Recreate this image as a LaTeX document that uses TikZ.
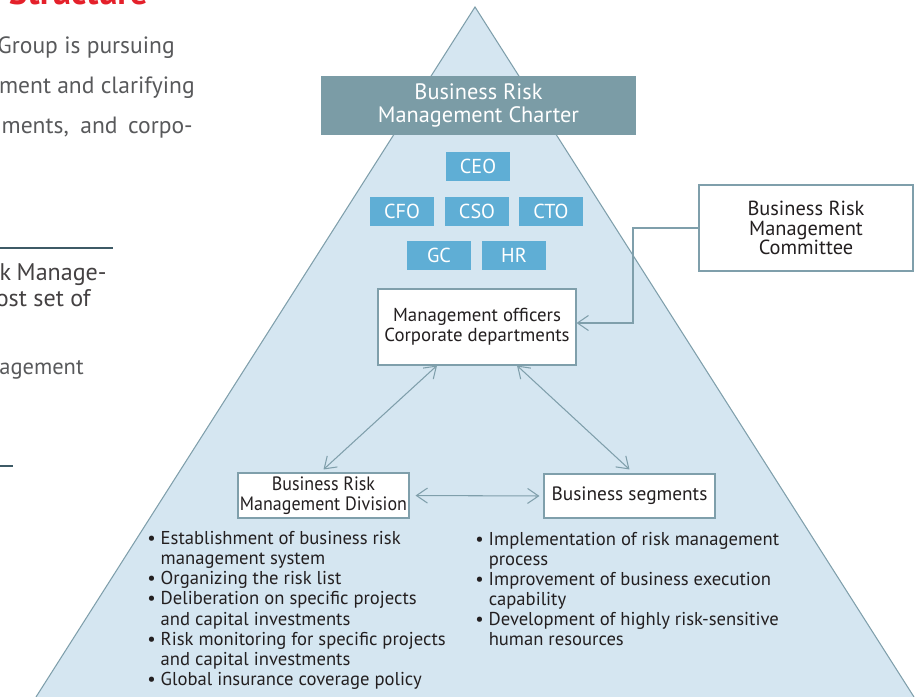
\documentclass[tikz,border=0pt]{standalone}
\usepackage{fontspec}
\setmainfont{PT Sans}
\newfontfamily\narrowfont[FakeStretch=0.93]{PT Sans}
\usepackage{xcolor}
\definecolor{riskpale}{HTML}{D5E6F1}
\definecolor{riskslate}{HTML}{7F9FAB}
\definecolor{riskcharter}{HTML}{7B9CA6}
\definecolor{riskblue}{HTML}{5FAED5}
\definecolor{riskink}{HTML}{231F20}
\definecolor{riskgray}{HTML}{58595B}
\definecolor{riskred}{HTML}{E4202A}
\definecolor{riskrule}{HTML}{3E5A66}
\usetikzlibrary{arrows.meta,positioning}

\begin{document}
\begin{tikzpicture}[
  x=0.2mm, y=-0.2mm,
  font=\fontsize{10}{11.3}\selectfont, text=riskink,
  exec/.style={rectangle, fill=riskblue, text=white, minimum width=12.8mm, minimum height=5.8mm, inner sep=0pt, font=\fontsize{11.5}{12}\selectfont},
  unit/.style={rectangle, draw=riskslate, fill=white, line width=0.6pt, align=center, inner sep=0pt},
  notes/.style={align=left, inner sep=0pt, anchor=north west, font=\fontsize{10.6}{11.45}\selectfont},
  pagetext/.style={anchor=base east, inner sep=0pt, text=riskgray, font=\fontsize{13.4}{13.4}\selectfont},
  a/.style={{Straight Barb[length=2.2mm,width=3mm]}-{Straight Barb[length=2.2mm,width=3mm]}, line width=0.6pt, riskslate},
  ln/.style={riskslate, line width=0.6pt},
  rule/.style={riskrule, line width=1.1pt},
]
\useasboundingbox (0,0) rectangle (921,697);
% ---------------- page text cut off at the left
\node[pagetext, text=riskred, font=\bfseries\fontsize{20}{20}\selectfont] (title) at (148,5) {Structure};
\node[pagetext] (p1) at (175,54) {Group is pursuing};
\node[pagetext] (p2) at (195,94) {ment and clarifying};
\node[pagetext] (p3) at (193,134) {\makebox[38.2mm][s]{ments, and corpo-}};
\draw[rule] (0,248) -- (113,248);
\node[pagetext, text=riskink!85, font=\fontsize{13.7}{13.7}\selectfont] (p4) at (107,280) {\makebox[21.4mm][s]{k Manage-}};
\node[pagetext, text=riskink!85, font=\fontsize{13.7}{13.7}\selectfont] (p5) at (91,306) {ost set of};
\node[pagetext, font=\fontsize{12.8}{12.8}\selectfont] (p6) at (84,374) {agement};
\draw[rule] (0,466) -- (13,466);
% ---------------- the pyramid
\coordinate (apex) at (475,7);
\coordinate (baseL) at (36,697);
\coordinate (baseR) at (914,697);
\fill[riskpale] (apex) -- (baseR) -- (baseL) -- cycle;
\draw[ln] (baseL) -- (apex) -- (baseR);
% ---------------- charter and officers
\node[rectangle, fill=riskcharter, text=white, minimum width=63mm, minimum height=11.8mm, align=center, inner sep=0pt, font=\fontsize{12.7}{13.6}\selectfont] (charter) at (478.5,105.5) {Business Risk\\Management Charter};
\node[exec] (ceo) at (478,166.5) {CEO};
\node[exec] (cfo) at (402,211.5) {CFO};
\node[exec] (cso) at (477,211.5) {CSO};
\node[exec] (cto) at (551,211.5) {CTO};
\node[exec] (gc) at (439,255.5) {GC};
\node[exec] (hr) at (514,255.5) {HR};
% ---------------- management units
\node[unit, minimum width=39.6mm, minimum height=15.2mm, font=\fontsize{10.7}{11.3}\selectfont] (mgmt) at (477,327) {Management officers\\Corporate departments};
\node[unit, minimum width=42.8mm, minimum height=17.2mm, font=\fontsize{11.6}{11.3}\selectfont] (comm) at (806,228) {Business Risk\\Management\\Committee};
\node[unit, minimum width=34.2mm, minimum height=9mm, font=\narrowfont\fontsize{11}{11.3}\selectfont] (div) at (323.5,495.5) {Business Risk\\Management Division};
\node[unit, minimum width=34.2mm, minimum height=8.8mm, font=\fontsize{11}{11.3}\selectfont] (seg) at (629.5,496) {Business segments};
\coordinate (elbow) at (633,228);
\draw[ln, -{Straight Barb[length=2.2mm,width=3mm]}] (comm.west) -- (elbow) |- ([yshift=0.8mm]mgmt.east);
\draw[a] ([xshift=-8mm]mgmt.south) -- ([yshift=0.6mm]div.north);
\draw[a] ([xshift=8mm]mgmt.south) -- ([yshift=0.8mm]seg.north);
\draw[a, shorten <=1.2mm, shorten >=0.8mm] (div.east) -- (seg.west);
% ---------------- roles
\node[notes] (divnotes) at (147,531) {\textbullet\ Establishment of business risk\\
\hphantom{\textbullet\ }management system\\
\textbullet\ Organizing the risk list\\
\textbullet\ Deliberation on specific projects\\
\hphantom{\textbullet\ }and capital investments\\
\textbullet\ Risk monitoring for specific projects\\
\hphantom{\textbullet\ }and capital investments\\
\textbullet\ Global insurance coverage policy};
\node[notes] (segnotes) at (475,531.5) {\textbullet\ Implementation of risk management\\
\hphantom{\textbullet\ }process\\
\textbullet\ Improvement of business execution\\
\hphantom{\textbullet\ }capability\\
\textbullet\ Development of highly risk-sensitive\\
\hphantom{\textbullet\ }human resources};
\end{tikzpicture}
\end{document}
